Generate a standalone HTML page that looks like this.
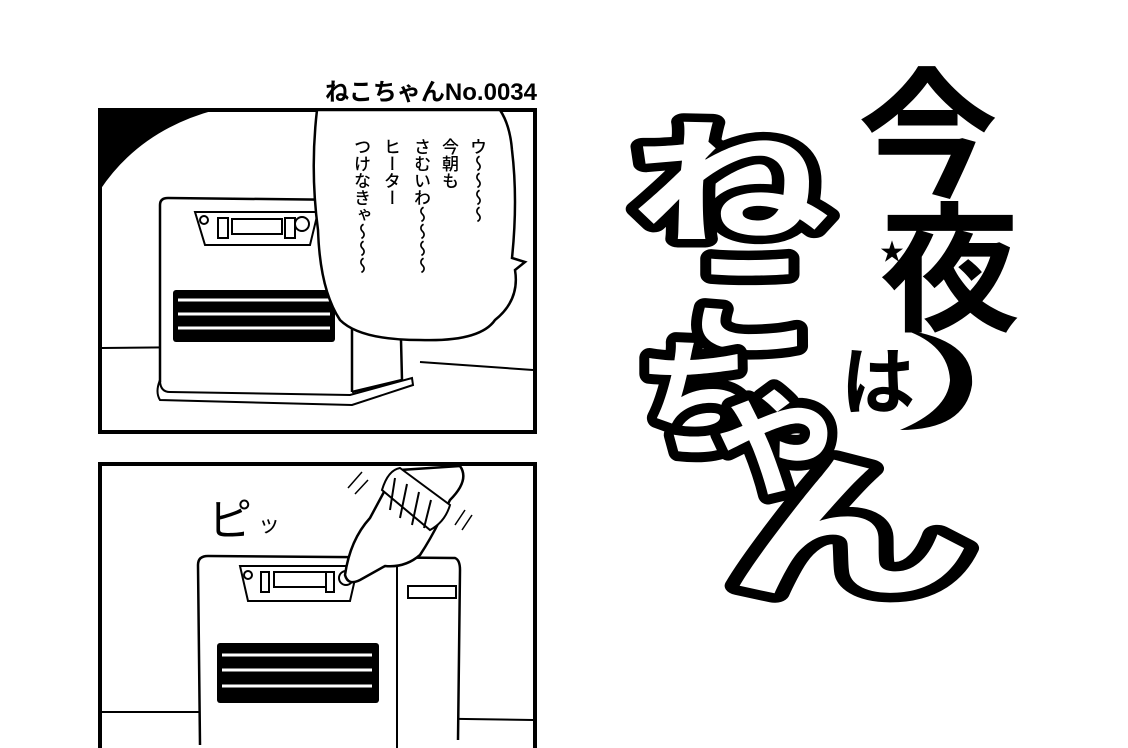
<!DOCTYPE html>
<html><head><meta charset="utf-8"><style>
html,body{margin:0;padding:0;background:#fff;}
body{width:1128px;height:748px;overflow:hidden;position:relative;font-family:"Liberation Sans","Noto Sans CJK JP",sans-serif;}
.v{position:absolute;writing-mode:vertical-rl;font-family:"Noto Sans CJK JP",sans-serif;font-size:17px;line-height:17px;color:#000;font-weight:500;}
</style></head><body>
<svg width="1128" height="748" viewBox="0 0 1128 748" style="position:absolute;left:0;top:0">
<text x="537" y="100" text-anchor="end" font-family="Liberation Sans,'Noto Sans CJK JP',sans-serif" font-weight="bold" font-size="24">ねこちゃんNo.0034</text>
<!-- panel 1 -->
<rect x="100" y="110" width="435" height="322" fill="#fff" stroke="#000" stroke-width="4"/>
<path d="M100 110 H215 Q140 130 100 190 Z" fill="#000"/>
<path d="M102 348 L300 346 M420 362 L533 370" stroke="#000" stroke-width="2" fill="none"/>
<path d="M160 382 L160 205 Q160 198 168 198 L352 200 L352 392" fill="#fff" stroke="#000" stroke-width="2.5"/>
<path d="M352 392 L402 380 L400 300" fill="none" stroke="#000" stroke-width="2.5"/>
<path d="M160 380 Q160 392 170 392 L350 395 L412 378 L413 385 L352 405 L160 400 Q155 392 160 380Z" fill="#fff" stroke="#000" stroke-width="2"/>
<path d="M195 212 L318 212 L310 245 L205 245 Z" fill="#fff" stroke="#000" stroke-width="2"/>
<circle cx="204" cy="220" r="4" fill="none" stroke="#000" stroke-width="2"/>
<rect x="218" y="218" width="10" height="20" fill="none" stroke="#000" stroke-width="2"/>
<rect x="232" y="219" width="50" height="15" fill="none" stroke="#000" stroke-width="2"/>
<rect x="285" y="218" width="10" height="20" fill="none" stroke="#000" stroke-width="2"/>
<circle cx="302" cy="224" r="7" fill="none" stroke="#000" stroke-width="2"/>
<rect x="173" y="290" width="162" height="52" rx="3" fill="#000"/>
<path d="M178 300 H330 M178 314 H330 M178 328 H330" stroke="#fff" stroke-width="3"/>
<path d="M317 110 Q310 170 318 230 Q320 290 340 320 Q360 340 420 340 Q480 342 495 320 Q520 300 515 270 L525 262 L512 258 Q518 200 512 150 Q510 125 500 110 Z" fill="#fff" stroke="#000" stroke-width="2.5"/>
<!-- panel 2 -->
<path d="M100 748 V464 H535 V748" fill="#fff" stroke="#000" stroke-width="4"/>
<path d="M102 712 L200 712 M397 718 L533 720" stroke="#000" stroke-width="2" fill="none"/>
<path d="M200 745 L198 565 Q198 556 208 556 L455 558 Q460 560 460 570 L458 740" fill="#fff" stroke="#000" stroke-width="2.5"/>
<path d="M397 560 L397 748" stroke="#000" stroke-width="2"/>
<path d="M240 566 L358 566 L350 601 L248 601 Z" fill="#fff" stroke="#000" stroke-width="2"/>
<circle cx="248" cy="575" r="4" fill="none" stroke="#000" stroke-width="2"/>
<rect x="261" y="572" width="8" height="20" fill="none" stroke="#000" stroke-width="2"/>
<rect x="274" y="572" width="52" height="15" fill="none" stroke="#000" stroke-width="2"/>
<rect x="326" y="572" width="8" height="20" fill="none" stroke="#000" stroke-width="2"/>
<circle cx="346" cy="578" r="7" fill="none" stroke="#000" stroke-width="2"/>
<rect x="408" y="586" width="48" height="12" fill="none" stroke="#000" stroke-width="2"/>
<rect x="217" y="643" width="162" height="60" rx="3" fill="#000"/>
<path d="M222 655 H372 M222 670 H372 M222 686 H372" stroke="#fff" stroke-width="3"/>
<path d="M345 575 Q350 540 370 518 L385 490 L400 470 L460 466 Q470 480 450 500 L440 520 Q430 540 420 555 Q405 568 385 566 L360 580 Q348 586 345 575Z" fill="#fff" stroke="#000" stroke-width="2.5"/>
<path d="M382 490 Q388 470 400 468 L450 505 Q445 522 430 530 Z" fill="#fff" stroke="#000" stroke-width="2"/>
<path d="M395 478 L390 510 M407 484 L400 518 M419 492 L412 525 M431 500 L424 528" stroke="#000" stroke-width="2"/>
<path d="M348 488 L362 472 M355 494 L368 480 M455 525 L465 510 M462 530 L472 515" stroke="#000" stroke-width="1.5"/>
<text x="208" y="535" font-family="'Noto Sans CJK JP',sans-serif" font-size="44">ピ</text>
<text x="258" y="532" font-family="'Noto Sans CJK JP',sans-serif" font-size="22">ッ</text>
<!-- logo -->
<g font-family="'Noto Sans CJK JP',sans-serif" font-weight="700" text-anchor="middle">
<g stroke="#000" stroke-width="20" stroke-linejoin="round" stroke-linecap="round" fill="#fff" paint-order="stroke">
<text transform="translate(730,232) scale(1.25,0.85)" font-size="160">ね</text>
<text transform="translate(750,345) scale(1.1,0.95)" font-size="125">こ</text>
<text transform="translate(700,445)" font-size="128">ち</text>
<text transform="translate(777,482)" font-size="140">ゃ</text>
<text transform="translate(850,585) scale(1.5,0.95)" font-size="165">ん</text>
</g>
<g fill="#000">
<text x="928" y="186" font-size="140">今</text>
<text x="950" y="320" font-size="140">夜</text>
<text x="878" y="408" font-size="74">は</text>
</g>
</g>
<text x="892" y="260" font-size="24" text-anchor="middle" fill="#000">★</text>
<path d="M905 330 Q975 340 972 385 Q965 430 900 430 Q948 410 950 380 Q948 345 905 330Z" fill="#000"/>
</svg>
<div class="v" style="left:470px;top:138px">ウ〜〜〜〜</div>
<div class="v" style="left:442px;top:138px">今朝も</div>
<div class="v" style="left:414px;top:138px">さむいわ〜〜〜〜</div>
<div class="v" style="left:384px;top:138px">ヒーター</div>
<div class="v" style="left:354px;top:138px">つけなきゃ〜〜〜</div>
</body></html>
